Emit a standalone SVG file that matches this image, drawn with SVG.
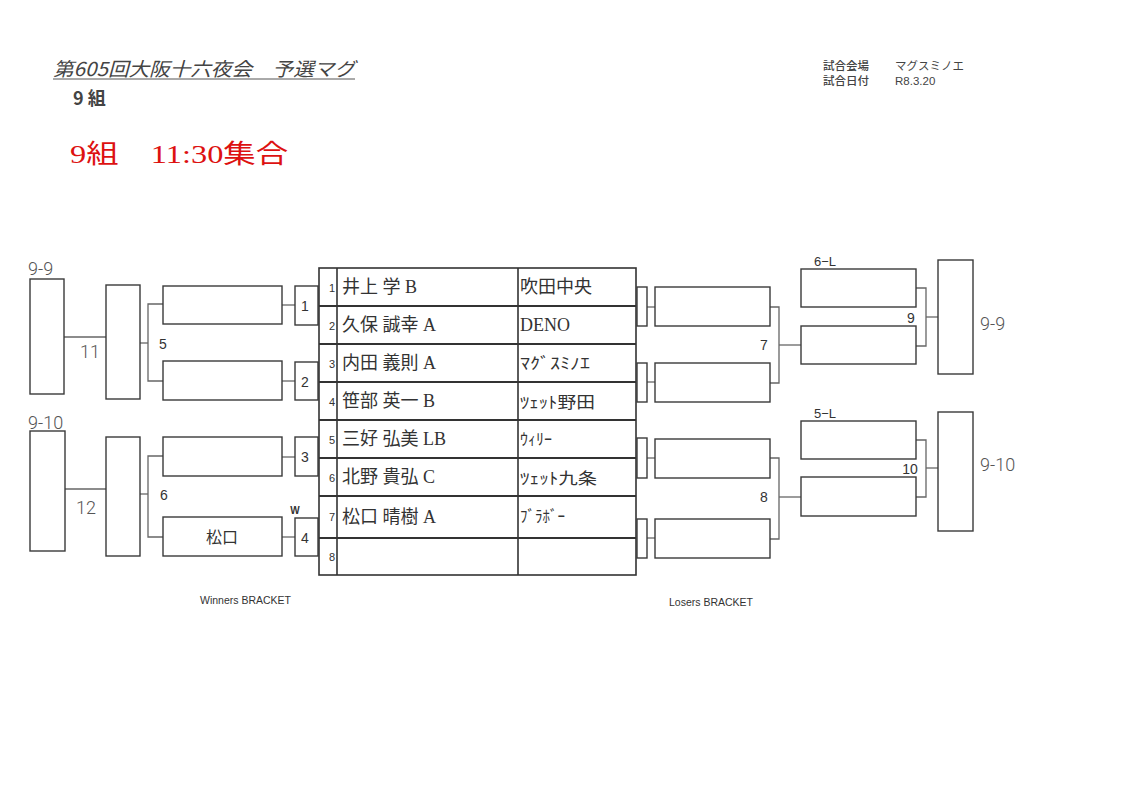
<svg xmlns="http://www.w3.org/2000/svg" width="1123" height="794" viewBox="0 0 1123 794">
<style>
.bx{fill:none;stroke:#3a3a3a;stroke-width:1.4}
.tb{fill:none;stroke:#333;stroke-width:1.6}
.rl{stroke:#333;stroke-width:2}
.cn{fill:none;stroke:#666;stroke-width:1.3}
.s{font-family:"Liberation Sans","Noto Sans CJK JP",sans-serif;fill:#333}
.j{font-family:"Liberation Serif","Noto Sans CJK JP",serif;fill:#333;font-size:18px}
.k{font-family:"Noto Sans CJK JP",sans-serif;fill:#333;font-size:16px}
.h{font-family:Roboto,"Open Sans",sans-serif;fill:#555;font-weight:300;font-size:18px}
.n{font-family:"Liberation Sans",sans-serif;fill:#333;font-size:11px;text-anchor:middle}
.m{font-family:"Liberation Sans",sans-serif;fill:#333;font-size:14px;text-anchor:middle}
</style>
<rect width="1123" height="794" fill="#fff"/>

<g id="header">
<text x="53" y="76" font-size="19" font-style="italic" fill="#444" textLength="302" lengthAdjust="spacingAndGlyphs" font-family="Noto Sans CJK JP, sans-serif">第605回大阪十六夜会　予選マグ</text>
<line x1="53" y1="79" x2="355" y2="79" stroke="#555" stroke-width="1"/>
<text x="73" y="105" font-family="Noto Sans CJK JP, sans-serif" font-size="18" font-weight="bold" fill="#444">9 組</text>
<text x="70" y="163" font-family="Liberation Serif, Noto Sans CJK JP, serif" font-size="26" fill="#dd1111" textLength="218" lengthAdjust="spacingAndGlyphs">9組　11:30集合</text>
<text x="823" y="70" font-family="Noto Sans CJK JP, sans-serif" font-size="11.5" font-weight="500" fill="#444">試合会場</text>
<text x="895" y="70" font-family="Noto Sans CJK JP, sans-serif" font-size="11.5" fill="#444">マグスミノエ</text>
<text x="823" y="85" font-family="Noto Sans CJK JP, sans-serif" font-size="11.5" font-weight="500" fill="#444">試合日付</text>
<text x="895" y="85" font-family="Liberation Sans, sans-serif" font-size="11.5" fill="#444">R8.3.20</text>
</g>

<g id="connectors">
<line x1="64" y1="337" x2="106" y2="337" class="cn" stroke-width="2"/>
<line x1="65" y1="489" x2="106" y2="489" class="cn" stroke-width="2"/>
<polyline points="140,343 148,343" class="cn"/>
<polyline points="163,304 148,304 148,381 163,381" class="cn"/>
<polyline points="140,494 148,494" class="cn"/>
<polyline points="163,456 148,456 148,537 163,537" class="cn"/>
<line x1="282" y1="305" x2="295" y2="305" class="cn"/>
<line x1="282" y1="381" x2="295" y2="381" class="cn"/>
<line x1="282" y1="457" x2="295" y2="457" class="cn"/>
<line x1="282" y1="537" x2="295" y2="537" class="cn"/>
<line x1="647" y1="307" x2="655" y2="307" class="cn"/>
<line x1="647" y1="382" x2="655" y2="382" class="cn"/>
<line x1="647" y1="458" x2="655" y2="458" class="cn"/>
<line x1="647" y1="538" x2="655" y2="538" class="cn"/>
<polyline points="770,307 779,307 779,383 770,383" class="cn"/>
<line x1="779" y1="345" x2="801" y2="345" class="cn"/>
<polyline points="770,458 779,458 779,539 770,539" class="cn"/>
<line x1="779" y1="497" x2="801" y2="497" class="cn"/>
<polyline points="916,288 926,288 926,346 916,346" class="cn"/>
<line x1="926" y1="317" x2="938" y2="317" class="cn"/>
<polyline points="916,440 926,440 926,497 916,497" class="cn"/>
<line x1="926" y1="468" x2="938" y2="468" class="cn"/>
</g>

<g id="winners-final">
<rect x="30" y="279" width="34" height="115" class="bx"/>
<rect x="30" y="431" width="35" height="120" class="bx"/>
<text x="28" y="275" class="h">9-9</text>
<text x="28" y="429" class="h">9-10</text>
<text x="80" y="358" class="h" font-size="15">11</text>
<text x="76" y="514" class="h" font-size="15">12</text>
</g>

<g id="winners-semi">
<rect x="106" y="285" width="34" height="114" class="bx"/>
<rect x="106" y="437" width="34" height="119" class="bx"/>
<text x="163" y="349" class="m" text-anchor="start">5</text>
<text x="164" y="500" class="m" text-anchor="start">6</text>
</g>

<g id="winners-r1">
<rect x="163" y="286" width="119" height="38" class="bx"/>
<rect x="163" y="361" width="119" height="39" class="bx"/>
<rect x="163" y="437" width="119" height="39" class="bx"/>
<rect x="163" y="517" width="119" height="39" class="bx"/>
<text x="222" y="543" class="k" font-size="17" text-anchor="middle">松口</text>
</g>

<g id="winners-matches">
<rect x="295" y="286" width="23" height="39" class="bx"/>
<rect x="295" y="362" width="23" height="38" class="bx"/>
<rect x="295" y="437" width="23" height="39" class="bx"/>
<rect x="295" y="518" width="23" height="38" class="bx"/>
<text x="305" y="311" class="m">1</text>
<text x="305" y="387" class="m">2</text>
<text x="305" y="462" class="m">3</text>
<text x="305" y="543" class="m">4</text>
<text x="295" y="514" font-family="Liberation Sans, sans-serif" font-size="10" font-weight="bold" fill="#333" text-anchor="middle">W</text>
</g>

<g id="entry-table">
<rect x="319" y="268" width="317" height="307" class="tb"/>
<line x1="337" y1="268" x2="337" y2="575" class="tb"/>
<line x1="518" y1="268" x2="518" y2="575" class="tb"/>
<line x1="319" y1="306" x2="636" y2="306" class="rl"/>
<line x1="319" y1="344" x2="636" y2="344" class="rl"/>
<line x1="319" y1="382" x2="636" y2="382" class="rl"/>
<line x1="319" y1="420" x2="636" y2="420" class="rl"/>
<line x1="319" y1="458" x2="636" y2="458" class="rl"/>
<line x1="319" y1="496" x2="636" y2="496" class="rl"/>
<line x1="319" y1="538" x2="636" y2="538" class="rl"/>
<text x="332" y="292" class="n">1</text>
<text x="332" y="330" class="n">2</text>
<text x="332" y="368" class="n">3</text>
<text x="332" y="406" class="n">4</text>
<text x="332" y="444" class="n">5</text>
<text x="332" y="482" class="n">6</text>
<text x="332" y="521" class="n">7</text>
<text x="332" y="561" class="n">8</text>
<text x="342" y="293" class="j">井上 学 B</text>
<text x="342" y="331" class="j">久保 誠幸 A</text>
<text x="342" y="369" class="j">内田 義則 A</text>
<text x="342" y="407" class="j">笹部 英一 B</text>
<text x="342" y="445" class="j">三好 弘美 LB</text>
<text x="342" y="483" class="j">北野 貴弘 C</text>
<text x="342" y="523" class="j">松口 晴樹 A</text>
<text x="520" y="293" class="j">吹田中央</text>
<text x="520" y="331" class="j" font-size="17">DENO</text>
<text x="520" y="369" class="k" textLength="70" lengthAdjust="spacingAndGlyphs">ﾏｸﾞｽﾐﾉｴ</text>
<text x="520" y="408" class="k" font-size="17" textLength="75" lengthAdjust="spacingAndGlyphs">ﾂｪｯﾄ野田</text>
<text x="520" y="445" class="k" textLength="32" lengthAdjust="spacingAndGlyphs">ｳｨﾘｰ</text>
<text x="520" y="484" class="k" font-size="17" textLength="77" lengthAdjust="spacingAndGlyphs">ﾂｪｯﾄ九条</text>
<text x="520" y="522" class="k" textLength="45" lengthAdjust="spacingAndGlyphs">ﾌﾞﾗﾎﾞｰ</text>
</g>

<g id="losers-matches">
<rect x="637" y="287" width="10" height="39" class="bx"/>
<rect x="637" y="363" width="10" height="39" class="bx"/>
<rect x="637" y="438" width="10" height="40" class="bx"/>
<rect x="637" y="519" width="10" height="39" class="bx"/>
</g>

<g id="losers-r1">
<rect x="655" y="287" width="115" height="39" class="bx"/>
<rect x="655" y="363" width="115" height="39" class="bx"/>
<rect x="655" y="439" width="115" height="39" class="bx"/>
<rect x="655" y="519" width="115" height="39" class="bx"/>
<text x="764" y="350" class="m">7</text>
<text x="764" y="502" class="m">8</text>
</g>

<g id="losers-r2">
<rect x="801" y="269" width="115" height="38" class="bx"/>
<rect x="801" y="326" width="115" height="38" class="bx"/>
<rect x="801" y="421" width="115" height="38" class="bx"/>
<rect x="801" y="477" width="115" height="39" class="bx"/>
<text x="814" y="266" class="s" font-size="13">6−L</text>
<text x="814" y="418" class="s" font-size="13">5−L</text>
<text x="911" y="323" class="m">9</text>
<text x="910" y="474" class="m">10</text>
</g>

<g id="losers-final">
<rect x="938" y="260" width="35" height="114" class="bx"/>
<rect x="938" y="412" width="35" height="119" class="bx"/>
<text x="980" y="330" class="h" font-size="21">9-9</text>
<text x="980" y="471" class="h" font-size="19">9-10</text>
</g>

<g id="footer">
<text x="200" y="604" class="s" font-size="10.5">Winners BRACKET</text>
<text x="669" y="606" class="s" font-size="10.5">Losers BRACKET</text>
</g>
</svg>
